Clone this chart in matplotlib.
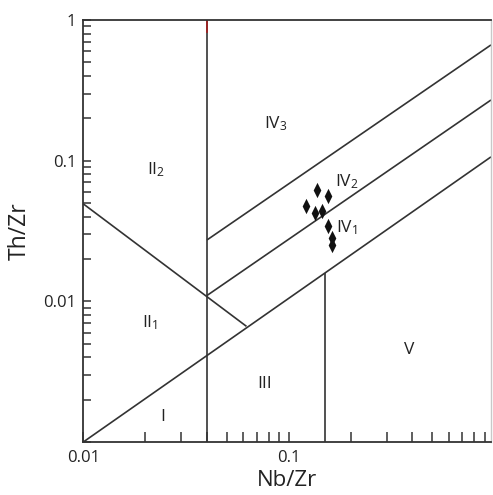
import matplotlib
matplotlib.use("Agg")
import matplotlib.pyplot as plt
from matplotlib.ticker import FixedLocator, NullFormatter

plt.rcParams['font.family'] = ['Open Sans', 'DejaVu Sans']
plt.rcParams['mathtext.default'] = 'regular'

# Sample data (Nb/Zr, Th/Zr)
nb_zr = [0.138, 0.156, 0.121, 0.134, 0.145, 0.156, 0.162, 0.163]
th_zr = [0.062, 0.0565, 0.048, 0.0424, 0.044, 0.0344, 0.0282, 0.025]

# Field boundary lines (x list, y list)
line_vert_a_x = [0.04, 0.04]
line_vert_a_y = [0.001, 1.0]
line_vert_b_x = [0.15, 0.15]
line_vert_b_y = [0.001, 0.016]
line_low_x = [0.01, 0.966]
line_low_y = [0.001, 0.1064]
line_mid_x = [0.04, 0.966]
line_mid_y = [0.011, 0.27]
line_up_x = [0.04, 0.966]
line_up_y = [0.0273, 0.665]
line_diag_x = [0.01, 0.0623]
line_diag_y = [0.0493, 0.00664]

# Field labels
field_labels = ['I', 'II$_1$', 'II$_2$', 'III', 'IV$_3$', 'IV$_2$', 'IV$_1$', 'V']
field_x = [0.0244, 0.0211, 0.0226, 0.0767, 0.0867, 0.192, 0.192, 0.385]
field_y = [0.00151, 0.00705, 0.086, 0.0026, 0.183, 0.0707, 0.0333, 0.00453]

x_ticks = [0.01, 0.1]
x_ticklabels = ['0.01', '0.1']
y_ticks = [0.001, 0.01, 0.1, 1]
y_ticklabels = ['', '0.01', '0.1', '1']

W, H = 493, 495
fig = plt.figure(figsize=(W / 100, H / 100), dpi=100)
ax = fig.add_axes([83.3 / W, 53 / H, (491 - 83.3) / W, 422 / H])
ax.set_xscale('log')
ax.set_yscale('log')
ax.set_xlim(0.01, 0.966)
ax.set_ylim(0.001, 1)

lc = '#333333'
lw = 1.2
for xs, ys in [(line_vert_a_x, line_vert_a_y), (line_vert_b_x, line_vert_b_y),
               (line_low_x, line_low_y), (line_mid_x, line_mid_y),
               (line_up_x, line_up_y), (line_diag_x, line_diag_y)]:
    ax.plot(xs, ys, color=lc, lw=lw, solid_capstyle='butt', clip_on=True)

# small red mark at top of the vertical line
ax.plot([0.04, 0.04], [1.0, 0.82], color='#a02020', lw=1.3)

diamond = [(0, 1), (0.5, 0), (0, -1), (-0.5, 0), (0, 1)]
ax.plot(nb_zr, th_zr, linestyle='none', marker=diamond, markersize=11,
        color='#111111', markeredgewidth=0)

for lab, x, y in zip(field_labels, field_x, field_y):
    ax.text(x, y, lab, ha='center', va='center', fontsize=12.5, color='#222222')

ax.xaxis.set_major_locator(FixedLocator(x_ticks))
ax.set_xticklabels(x_ticklabels)
ax.yaxis.set_major_locator(FixedLocator(y_ticks))
ax.set_yticklabels(y_ticklabels)
ax.xaxis.set_minor_formatter(NullFormatter())
ax.yaxis.set_minor_formatter(NullFormatter())

ax.tick_params(axis='both', which='both', direction='in', color=lc,
               width=1.1, labelsize=12, labelcolor='#222222')
ax.tick_params(axis='x', which='both', length=7, pad=6)
ax.tick_params(axis='y', which='both', length=6, pad=5)
ax.tick_params(top=False, right=False)

for s in ['left', 'bottom', 'top']:
    ax.spines[s].set_color(lc)
    ax.spines[s].set_linewidth(1.3)
ax.spines['right'].set_color('#c8c8c8')
ax.spines['right'].set_linewidth(1.0)

ax.set_xlabel('Nb/Zr', fontsize=16, color='#222222', labelpad=3)
ax.set_ylabel('Th/Zr', fontsize=16.5, color='#222222', labelpad=8)

fig.savefig('out.png', dpi=100)
